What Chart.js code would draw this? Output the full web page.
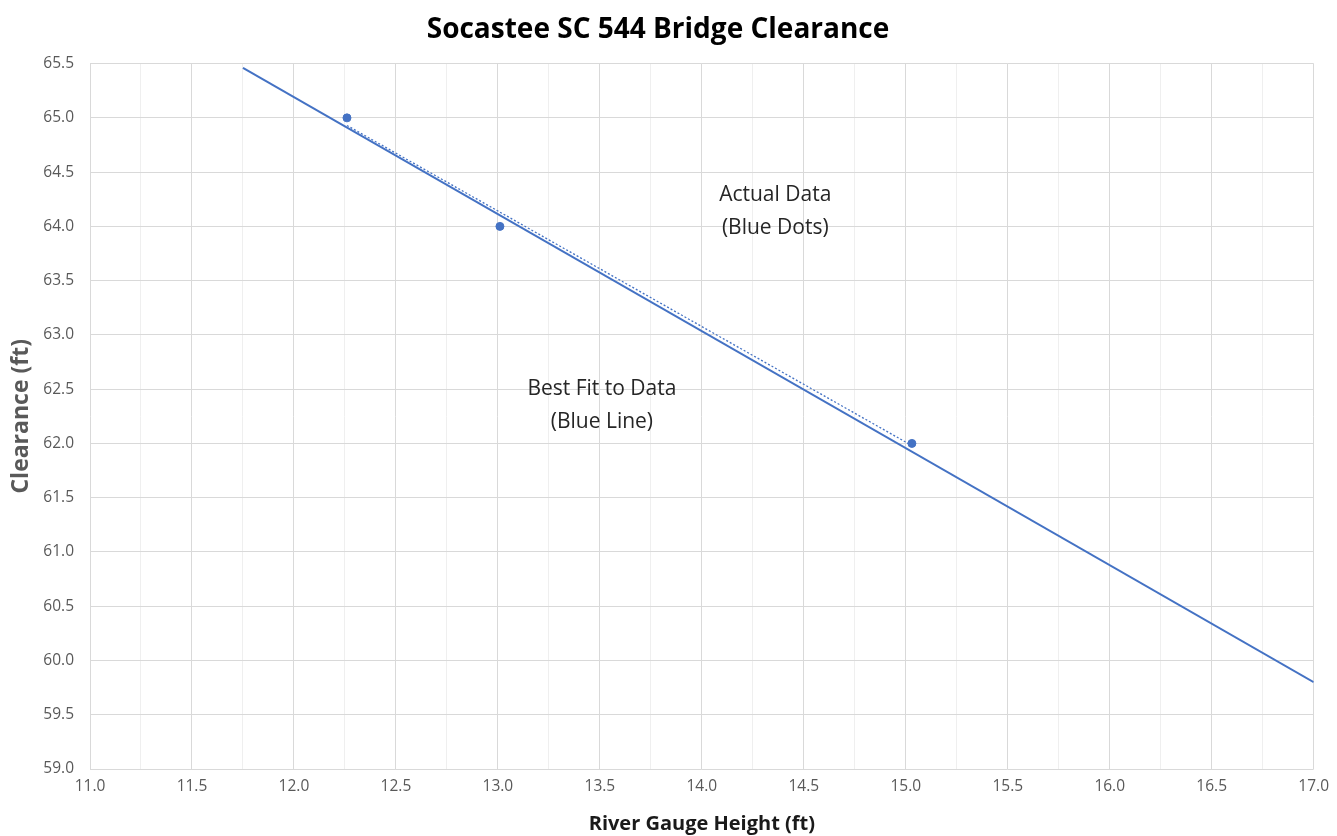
<!DOCTYPE html>
<html><head><meta charset="utf-8">
<script src="https://cdn.jsdelivr.net/npm/chart.js@4.4.0/dist/chart.umd.min.js"></script>
<style>html,body{margin:0;padding:0;background:#fff;}#wrap{width:1337px;height:836px;}</style>
</head><body><div id="wrap"><canvas id="c" width="1337" height="836"></canvas></div>
<script>
const actualX = [12.26, 13.01, 15.03];
const actualY = [65.0, 64.0, 62.0];
const fitX = [11.75, 17.0];
const fitY = [65.46, 59.80];
const trendX = [12.26, 15.03];
const trendY = [64.93, 61.98];
const noteTexts = [["Actual Data", "(Blue Dots)"], ["Best Fit to Data", "(Blue Line)"]];
const noteX = [14.36, 13.51];
const noteY = [64.14, 62.35];
const titleText = "Socastee SC 544 Bridge Clearance";
const xTitle = "River Gauge Height (ft)";
const yTitle = "Clearance (ft)";

const pts = (xs, ys) => xs.map((x, i) => ({x: x, y: ys[i]}));
const FONT = "'Open Sans', 'Liberation Sans', sans-serif";
const GRAY = "#595959";

const notePlugin = {
  id: 'notes',
  afterDatasetsDraw(chart) {
    const ctx = chart.ctx, xs = chart.scales.x, ys = chart.scales.y;
    ctx.save();
    ctx.font = "21px " + FONT;
    ctx.fillStyle = "#262626";
    ctx.textAlign = "center";
    ctx.textBaseline = "middle";
    noteTexts.forEach((lines, i) => {
      const cx = xs.getPixelForValue(noteX[i]);
      const cy = ys.getPixelForValue(noteY[i]);
      const lh = 33;
      lines.forEach((t, j) => ctx.fillText(t, cx, cy + (j - (lines.length - 1) / 2) * lh));
    });
    ctx.restore();
  }
};

new Chart(document.getElementById('c'), {
  type: 'scatter',
  data: {
    datasets: [
      {label: 'Best Fit', data: pts(fitX, fitY), showLine: true, borderColor: '#4472C4', borderWidth: 2, pointRadius: 0, fill: false, order: 2},
      {label: 'Trend', data: pts(trendX, trendY), showLine: true, borderColor: '#4472C4', borderWidth: 1.3, borderDash: [2, 2], pointRadius: 0, fill: false, order: 1},
      {label: 'Actual', data: pts(actualX, actualY), showLine: false, backgroundColor: '#4472C4', borderColor: '#4472C4', pointRadius: 4, order: 0}
    ]
  },
  options: {
    responsive: false, animation: false, devicePixelRatio: 1,
    layout: {padding: {left: 0, right: 21, top: 0, bottom: 0}},
    plugins: {
      legend: {display: false}, tooltip: {enabled: false},
      title: {display: true, text: titleText, color: '#000', font: {family: FONT, size: 28, weight: 'bold'}, padding: {top: 13, bottom: 17}}
    },
    scales: {
      x: {
        type: 'linear', min: 11, max: 17,
        afterFit: s => { s.height = 67; },
        border: {display: false},
        grid: {color: ctx => (Math.abs(ctx.tick.value * 2 - Math.round(ctx.tick.value * 2)) < 1e-6) ? '#d9d9d9' : '#efefef', lineWidth: 1, drawTicks: false},
        ticks: {stepSize: 0.25, autoSkip: false, maxRotation: 0, padding: 8, color: GRAY, font: {family: FONT, size: 15.5},
          callback: v => (Math.abs(v * 2 - Math.round(v * 2)) < 1e-6) ? v.toFixed(1) : ''},
        title: {display: true, text: xTitle, color: '#1a1a1a', font: {family: FONT, size: 20, weight: 'bold'}, padding: {top: 2, bottom: 0}}
      },
      y: {
        type: 'linear', min: 59, max: 65.5,
        afterFit: s => { s.width = 90; },
        border: {display: false},
        grid: {color: '#d9d9d9', lineWidth: 1, drawTicks: false},
        ticks: {stepSize: 0.5, padding: 16, color: GRAY, font: {family: FONT, size: 15.5}, callback: v => Number(v).toFixed(1)},
        title: {display: true, text: yTitle, color: GRAY, font: {family: FONT, size: 23, weight: 'bold'}, padding: {top: 8, bottom: 2}}
      }
    }
  },
  plugins: [notePlugin]
});
</script></body></html>
